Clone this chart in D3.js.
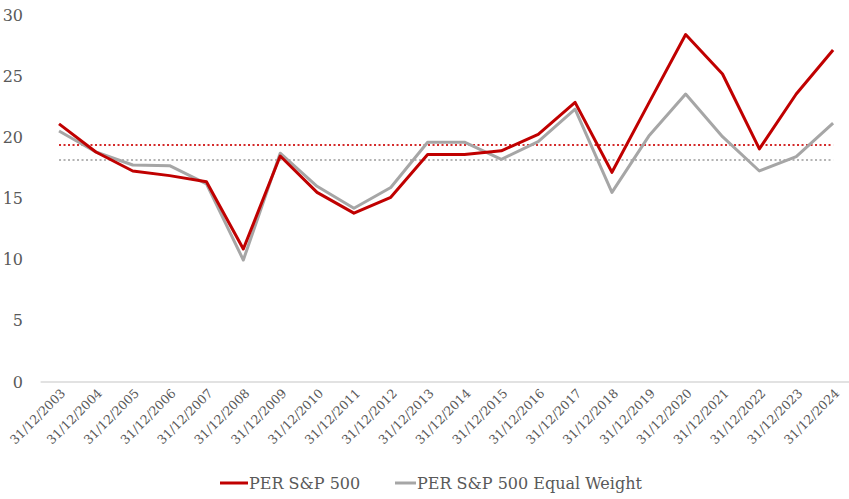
<!DOCTYPE html>
<html><head><meta charset="utf-8">
<script src="https://cdn.jsdelivr.net/npm/d3@7/dist/d3.min.js"></script>
<style>body{margin:0;background:#fff}svg{display:block}</style>
</head><body>
<svg id="c" width="849" height="499"></svg>
<script>
const categories = ["31/12/2003","31/12/2004","31/12/2005","31/12/2006","31/12/2007","31/12/2008","31/12/2009","31/12/2010","31/12/2011","31/12/2012","31/12/2013","31/12/2014","31/12/2015","31/12/2016","31/12/2017","31/12/2018","31/12/2019","31/12/2020","31/12/2021","31/12/2022","31/12/2023","31/12/2024"];
const perSP500 = [21.1,18.8,17.25,16.87,16.37,10.87,18.47,15.5,13.8,15.1,18.6,18.6,18.9,20.25,22.86,17.14,22.8,28.4,25.18,19.05,23.54,27.14];
const perEqualWeight = [20.52,18.8,17.74,17.68,16.2,9.97,18.7,16.0,14.2,15.9,19.6,19.6,18.2,19.65,22.3,15.5,20.1,23.54,20.05,17.25,18.42,21.17];
const avgSP500 = 19.37;
const avgEqualWeight = 18.15;
const yTicks = [0,5,10,15,20,25,30];
const seriesNames = ["PER S&P 500","PER S&P 500 Equal Weight"];
const colors = ["#C00000","#A6A6A6"];
const avgColors = ["#D42A2A","#B4B4B4"];

const svg = d3.select("#c");
const FONT = "'DejaVu Serif', serif";
const x = d3.scaleBand().domain(categories).range([40.6, 40.6 + 36.86*22]);
const xc = d => x(d) + x.bandwidth()/2;
const y = d3.scaleLinear().domain([0,30]).range([382,15]);

// y labels
svg.append("g").selectAll("text").data(yTicks).join("text")
  .attr("x", 23).attr("y", d => y(d)).attr("dy","0.35em")
  .attr("text-anchor","end").attr("font-family",FONT).attr("font-size",16)
  .attr("fill","#595959").text(d => d);

// x axis
const xAxis = svg.append("g").attr("transform","translate(0,382)")
  .call(d3.axisBottom(x).tickSize(0).tickPadding(0));
xAxis.select(".domain").attr("stroke","#D9D9D9").attr("stroke-width",1.3).attr("d","M40.6,0H849");
xAxis.selectAll("text")
  .attr("font-family",FONT).attr("font-size",12.5).attr("fill","#595959")
  .attr("text-anchor","end")
  .attr("transform","translate(4,9) rotate(-45)")
  .attr("dy","0.35em").attr("y",0).attr("x",0);

// average dotted lines
[avgSP500, avgEqualWeight].forEach((v,i) => {
  svg.append("line")
    .attr("x1", xc(categories[0])).attr("x2", xc(categories[categories.length-1]))
    .attr("y1", y(v)).attr("y2", y(v))
    .attr("stroke", avgColors[i]).attr("stroke-width", 2)
    .attr("stroke-dasharray","2,2.5");
});

const line = d3.line().x((d,i) => xc(categories[i])).y(d => y(d));
[perEqualWeight, perSP500].forEach((s,k) => {
  const i = k===0 ? 1 : 0;
  svg.append("path").datum(s).attr("d", line)
    .attr("fill","none").attr("stroke", colors[i]).attr("stroke-width",3)
    .attr("stroke-linejoin","round");
});

// legend
const leg = [{x1:220,x2:248,tx:249},{x1:395,x2:416,tx:417}];
leg.forEach((l,i) => {
  svg.append("line").attr("x1",l.x1).attr("x2",l.x2).attr("y1",483).attr("y2",483)
    .attr("stroke",colors[i]).attr("stroke-width",3);
  svg.append("text").attr("x",l.tx).attr("y",483).attr("dy","0.35em")
    .attr("font-family",FONT).attr("font-size",16).attr("fill","#595959")
    .text(seriesNames[i]);
});
</script>
</body></html>
